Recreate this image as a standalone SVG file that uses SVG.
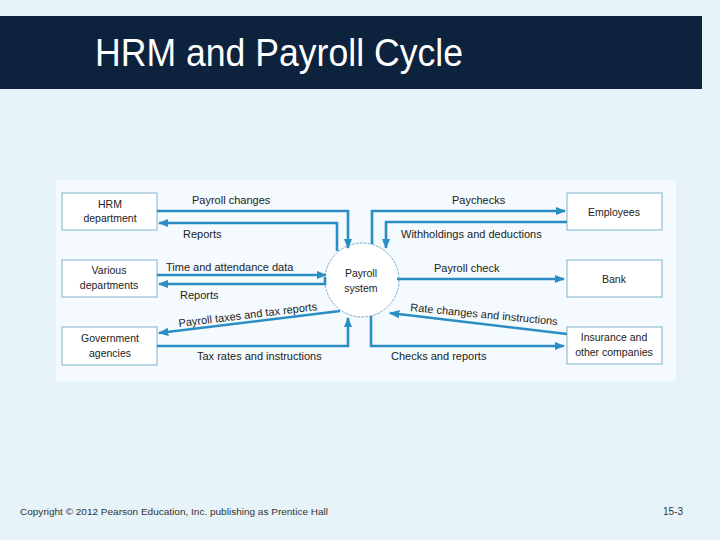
<svg xmlns="http://www.w3.org/2000/svg" width="720" height="540" viewBox="0 0 720 540">
<defs>
<marker id="ah" viewBox="0 0 10 10" refX="9" refY="5" markerWidth="4" markerHeight="4" orient="auto" markerUnits="strokeWidth">
<path d="M0,1 L10,5 L0,9 Z" fill="#2a8ec4"/>
</marker>
<style>
.bx{fill:#ffffff;stroke:#7fb2cc;stroke-width:1}
.ln{fill:none;stroke:#2a8ec4;stroke-width:2.6;marker-end:url(#ah)}
.t{font-family:"Liberation Sans",Arial,sans-serif;font-size:10.5px;fill:#222;text-anchor:middle}
.lb{font-family:"Liberation Sans",Arial,sans-serif;font-size:11px;fill:#222}
</style>
</defs>
<rect x="0" y="0" width="720" height="540" fill="#e6f3f9"/>
<rect x="0" y="16" width="702" height="73" fill="#0c223d"/>
<text x="95" y="66" font-family="'Liberation Sans',Arial,sans-serif" font-size="38" fill="#ffffff" textLength="368" lengthAdjust="spacingAndGlyphs">HRM and Payroll Cycle</text>
<rect x="56" y="180" width="620" height="201" fill="#f4fafd"/>

<g id="hrm"><rect class="bx" x="62" y="193" width="95" height="37"/><text class="t" x="110" y="208">HRM</text><text class="t" x="110" y="222">department</text></g>
<g id="various"><rect class="bx" x="62" y="260" width="95" height="37"/><text class="t" x="109" y="274">Various</text><text class="t" x="109" y="289">departments</text></g>
<g id="gov"><rect class="bx" x="62" y="327" width="95" height="38"/><text class="t" x="110" y="342">Government</text><text class="t" x="110" y="357">agencies</text></g>
<g id="employees"><rect class="bx" x="567" y="193" width="95" height="37"/><text class="t" x="614" y="216">Employees</text></g>
<g id="bank"><rect class="bx" x="567" y="260" width="95" height="37"/><text class="t" x="614" y="283">Bank</text></g>
<g id="insurance"><rect class="bx" x="567" y="327" width="95" height="37"/><text class="t" x="614" y="341">Insurance and</text><text class="t" x="614" y="356">other companies</text></g>
<g id="payroll"><circle cx="362" cy="280" r="37" fill="#ffffff" stroke="#7fb2cc" stroke-width="1" stroke-dasharray="3,1"/><text class="t" x="361" y="277">Payroll</text><text class="t" x="361" y="292">system</text></g>

<g id="connectors">
<path class="ln" d="M157,211 H348 V248"/>
<path class="ln" d="M337,251 V223 H159"/>
<path class="ln" d="M157,275 H326"/>
<path class="ln" d="M325,277 V284 H159"/>
<path class="ln" d="M340,311 L159,333"/>
<path class="ln" d="M157,346 H348 V318"/>
<path class="ln" d="M372,244 V211 H565"/>
<path class="ln" d="M567,222 H386 V248"/>
<path class="ln" d="M397,279 H564"/>
<path class="ln" d="M567,334 L390,313"/>
<path class="ln" d="M371,316 V346 H564"/>
</g>
<g id="labels">
<text class="lb" x="192" y="204">Payroll changes</text>
<text class="lb" x="183" y="238">Reports</text>
<text class="lb" x="166" y="271">Time and attendance data</text>
<text class="lb" x="180" y="299">Reports</text>
<text class="lb" transform="translate(179,327) rotate(-7)">Payroll taxes and tax reports</text>
<text class="lb" x="197" y="360">Tax rates and instructions</text>
<text class="lb" x="452" y="204">Paychecks</text>
<text class="lb" x="401" y="238">Withholdings and deductions</text>
<text class="lb" x="434" y="272">Payroll check</text>
<text class="lb" transform="translate(410,311) rotate(5.5)">Rate changes and instructions</text>
<text class="lb" x="391" y="360">Checks and reports</text>
</g>
<text x="20" y="515" font-family="'Liberation Sans',Arial,sans-serif" font-size="9.6" fill="#333" textLength="308" lengthAdjust="spacingAndGlyphs">Copyright © 2012 Pearson Education, Inc. publishing as Prentice Hall</text>
<text x="663" y="515" font-family="'Liberation Sans',Arial,sans-serif" font-size="10" fill="#333">15-3</text>
</svg>
